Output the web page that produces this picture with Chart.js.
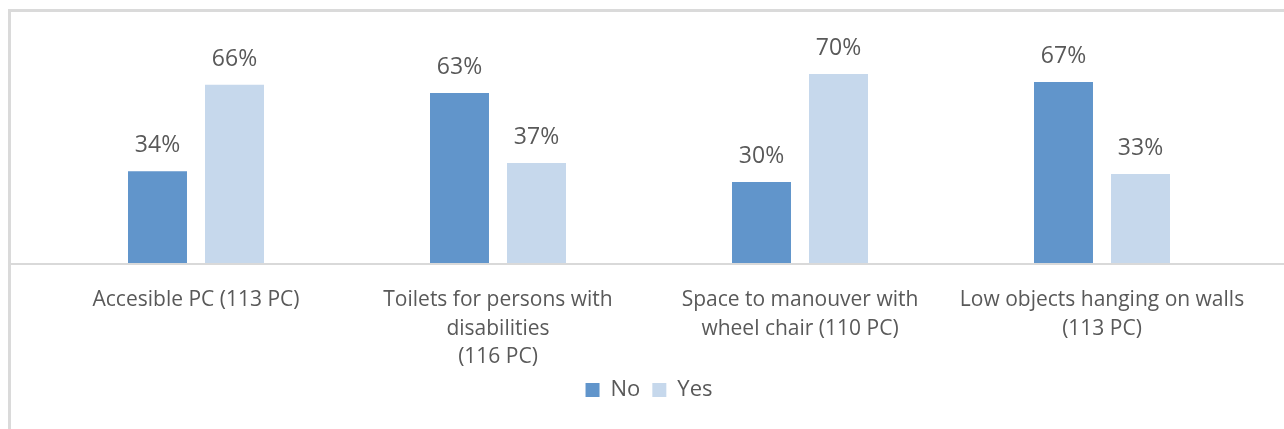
<!DOCTYPE html>
<html lang="en">
<head>
  <meta charset="UTF-8">
  <title>Accessibility survey bars</title>
  <script src="https://cdn.jsdelivr.net/npm/chart.js"></script>
  <style>
    html, body {
      margin: 0;
      padding: 0;
      width: 1284px;
      height: 429px;
      overflow: hidden;
      background: #fff;
    }
    /* light grey chart frame, cut off at right and bottom like the original */
    .frame {
      position: absolute;
      left: 8px;
      top: 9px;
      width: 1300px;
      height: 440px;
      border: 3px solid #dadada;
      box-sizing: border-box;
      pointer-events: none;
    }
    .chart-box {
      position: absolute;
      left: 0;
      top: 0;
      width: 1284px;
      height: 429px;
    }
  </style>
</head>
<body>
  <div class="frame"></div>
  <div class="chart-box">
    <canvas id="surveyChart"></canvas>
  </div>

  <script>
    // data
    const categories = [
      ['Accesible PC (113 PC)'],
      ['Toilets for persons with', 'disabilities', '(116 PC)'],
      ['Space to manouver with', 'wheel chair (110 PC)'],
      ['Low objects hanging on walls', '(113 PC)']
    ];
    const noValues = [34, 63, 30, 67];
    const yesValues = [66, 37, 70, 33];

    const textColor = '#595959';
    const fontFamily = '"Open Sans", "Noto Sans", sans-serif';

    // percentage labels above each bar
    const valueLabels = {
      id: 'valueLabels',
      afterDatasetsDraw(chart) {
        const ctx = chart.ctx;
        ctx.save();
        ctx.font = '23px ' + fontFamily;
        ctx.fillStyle = textColor;
        ctx.textAlign = 'center';
        ctx.textBaseline = 'alphabetic';
        chart.data.datasets.forEach((ds, i) => {
          chart.getDatasetMeta(i).data.forEach((bar, j) => {
            ctx.fillText(ds.data[j] + '%', bar.x, bar.y - 19);
          });
        });
        ctx.restore();
      }
    };

    // category axis line, running from the frame to the right edge
    const baseLine = {
      id: 'baseLine',
      beforeDatasetsDraw(chart) {
        const ctx = chart.ctx;
        const y = chart.scales.y.getPixelForValue(0);
        ctx.save();
        ctx.strokeStyle = '#d9d9d9';
        ctx.lineWidth = 2;
        ctx.beginPath();
        ctx.moveTo(10, y + 1);
        ctx.lineTo(chart.width, y + 1);
        ctx.stroke();
        ctx.restore();
      }
    };

    const ctx = document.getElementById('surveyChart').getContext('2d');
    new Chart(ctx, {
      type: 'bar',
      data: {
        labels: categories,
        datasets: [
          {
            label: 'No',
            data: noValues,
            backgroundColor: '#6195cb',
            categoryPercentage: 0.51,
            barPercentage: 0.766
          },
          {
            label: 'Yes',
            data: yesValues,
            backgroundColor: '#c6d8ec',
            categoryPercentage: 0.51,
            barPercentage: 0.766
          }
        ]
      },
      options: {
        responsive: true,
        maintainAspectRatio: false,
        animation: false,
        layout: {
          padding: { top: 47, left: 45, right: 31, bottom: 18 }
        },
        plugins: {
          tooltip: { enabled: false },
          legend: {
            position: 'bottom',
            labels: {
              boxWidth: 14,
              boxHeight: 14,
              padding: 12,
              color: textColor,
              font: { family: fontFamily, size: 22 }
            }
          }
        },
        scales: {
          x: {
            grid: { display: false, drawTicks: false },
            border: { display: false },
            ticks: {
              color: textColor,
              padding: 23,
              maxRotation: 0,
              autoSkip: false,
              font: { family: fontFamily, size: 21, lineHeight: 1.36 }
            },
            // the padding is counted twice below the labels; keep the legend close
            afterFit(scale) {
              scale.height = 104;
            }
          },
          y: {
            display: false,
            min: 0,
            max: 80
          }
        }
      },
      plugins: [valueLabels, baseLine]
    });
  </script>
</body>
</html>
